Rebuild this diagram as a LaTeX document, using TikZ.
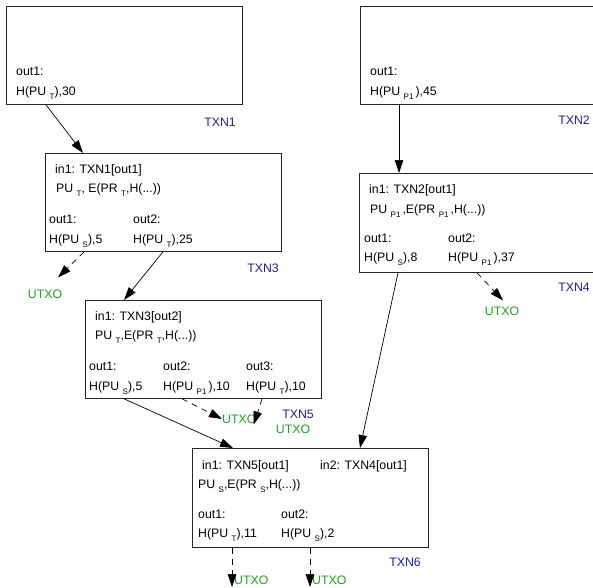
\documentclass[tikz,border=0pt]{standalone}
\usepackage{fontspec}
\setmainfont{Liberation Sans}
\usetikzlibrary{arrows.meta,calc}
\definecolor{txnblue}{RGB}{30,30,160}
\definecolor{utxogreen}{RGB}{30,160,30}
\newcommand\sbx[1]{\ \raisebox{-3.5pt}{\fontsize{8}{9}\selectfont #1}}
\begin{document}
\begin{tikzpicture}[x=1pt,y=-1pt,
  font=\fontsize{12.3}{14}\selectfont,
  box/.style={draw=black!85,line width=0.8pt,anchor=north west,inner sep=0pt},
  txt/.style={anchor=base west,inner sep=0pt},
  txnlab/.style={text=txnblue,anchor=center,inner sep=0pt},
  utxo/.style={text=utxogreen,inner sep=0pt},
  conn/.style={line width=0.7pt,-{Triangle[length=13pt,width=8.5pt]}},
  dconn/.style={conn,dash pattern=on 6pt off 5pt}]
\useasboundingbox (0,0) rectangle (593,587);
% boxes
\node[box,minimum width=236pt,minimum height=98pt] (t1) at (6,6) {};
\node[box,minimum width=236pt,minimum height=98pt] (t2) at (360,6) {};
\node[box,minimum width=236pt,minimum height=98pt] (t3) at (45,153) {};
\node[box,minimum width=236pt,minimum height=99pt] (t4) at (359,173) {};
\node[box,minimum width=236pt,minimum height=98pt] (t5) at (85,300) {};
\node[box,minimum width=236pt,minimum height=99pt] (t6) at (192,448) {};
% labels
\node[txnlab] (l1) at (220,122) {TXN1};
\node[txnlab] (l2) at (574,120) {TXN2};
\node[txnlab] (l3) at (263,268) {TXN3};
\node[txnlab] (l4) at (574,287) {TXN4};
\node[txnlab] (l5) at (298,414) {TXN5};
\node[txnlab] (l6) at (405,562) {TXN6};
% TXN1
\node[txt] (a1) at (16,75.5) {out1:};
\node[txt] (a2) at (16,95.5) {H(PU\sbx{T}),30};
% TXN2
\node[txt] (b1) at (370,75.5) {out1:};
\node[txt] (b2) at (370,95.5) {H(PU\sbx{P1}\,),45};
% TXN3
\node[txt] (c1) at (55,173.5) {in1: TXN1[out1]};
\node[txt] (c2) at (56,192.5) {PU\sbx{T}, E(PR\sbx{T},H(...))};
\node[txt] (c3) at (49,223.5) {out1:};
\node[txt] (c4) at (133,223.5) {out2:};
\node[txt] (c5) at (49,243.5) {H(PU\sbx{S}),5};
\node[txt] (c6) at (133,243.5) {H(PU\sbx{T}),25};
% TXN4
\node[txt] (d1) at (369,193.5) {in1: TXN2[out1]};
\node[txt] (d2) at (370,213.5) {PU\sbx{P1}\,,E(PR\sbx{P1}\,,H(...))};
\node[txt] (d3) at (364,242.5) {out1:};
\node[txt] (d4) at (448,242.5) {out2:};
\node[txt] (d5) at (364,261.5) {H(PU\sbx{S}),8};
\node[txt] (d6) at (448,261.5) {H(PU\sbx{P1}\,),37};
% TXN5
\node[txt] (e1) at (95,320.5) {in1: TXN3[out2]};
\node[txt] (e2) at (95,339.5) {PU\sbx{T},E(PR\sbx{T},H(...))};
\node[txt] (e3) at (89,370.5) {out1:};
\node[txt] (e4) at (163,370.5) {out2:};
\node[txt] (e5) at (246,370.5) {out3:};
\node[txt] (e6) at (89,390.5) {H(PU\sbx{S}),5};
\node[txt] (e7) at (163,390.5) {H(PU\sbx{P1}\,),10};
\node[txt] (e8) at (246,390.5) {H(PU\sbx{T}),10};
% TXN6
\node[txt] (f1) at (202,469.5) {in1: TXN5[out1]};
\node[txt] (f2) at (320,469.5) {in2: TXN4[out1]};
\node[txt] (f3) at (198,488.5) {PU\sbx{S},E(PR\sbx{S},H(...))};
\node[txt] (f4) at (198,518.5) {out1:};
\node[txt] (f5) at (281,518.5) {out2:};
\node[txt] (f6) at (198,537.5) {H(PU\sbx{T}),11};
\node[txt] (f7) at (281,537.5) {H(PU\sbx{S}),2};
% UTXO
\node[utxo] (u1) at (45,294) {UTXO};
\node[utxo] (u2) at (502,311) {UTXO};
\node[utxo,anchor=west] (u3) at (222,419) {UTXO};
\node[utxo] (u4) at (293,429) {UTXO};
\node[utxo,anchor=west] (u5) at (234,580) {UTXO};
\node[utxo,anchor=west] (u6) at (312,580) {UTXO};
% connectors
\draw[conn] ($(t1.south west)+(40,0)$) -- ($(t3.north west)+(38,0)$);
\draw[conn] ($(t2.south west)+(39,0)$) -- ($(t4.north west)+(40,0)$);
\draw[dconn] ($(t3.south west)+(39,0)$) -- ($(u1.north)+(13,-12)$);
\draw[conn] ($(t3.south west)+(118,0)$) -- ($(t5.north west)+(39,0)$);
\draw[conn] ($(t4.south west)+(39,0)$) -- ($(t6.north west)+(168,0)$);
\draw[dconn] ($(t4.south west)+(118,0)$) -- ($(u2.north)+(1,-6)$);
\draw[conn] ($(t5.south west)+(39,0)$) -- ($(t6.north west)+(41,0)$);
\draw[dconn] ($(t5.south west)+(97,0)$) -- (u3.west);
\draw[dconn] ($(t5.south west)+(177,0)$) -- ($(u4.north west)+(-22,0)$);
\draw[dconn] ($(t6.south west)+(40,0)$) -- ($(u5.west)+(-2,7)$);
\draw[dconn] ($(t6.south west)+(118,0)$) -- ($(u6.west)+(-2,7)$);
\end{tikzpicture}
\end{document}
